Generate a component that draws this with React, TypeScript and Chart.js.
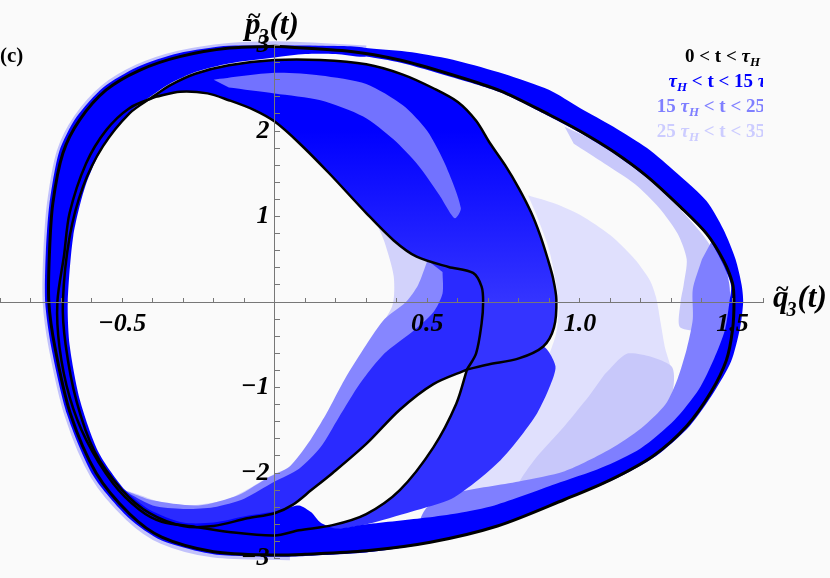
import React, { useEffect, useRef } from "react";
import { Chart, registerables } from "chart.js";

Chart.register(...registerables);

type Pt = [number, number];

// labelled ticks
const X_LABELED = [-0.5, 0.5, 1.0, 1.5];
const Y_LABELED = [-3, -2, -1, 1, 2, 3];

// legend lines: [text, style] with style n=normal, i=italic, s=subscript
const LEGEND: { color: string; parts: [string, string][] }[] = [
  { color: "#000000", parts: [["0 < t < ", "n"], ["τ", "i"], ["H", "s"]] },
  { color: "#0000ff", parts: [["τ", "i"], ["H", "s"], [" < t < 15 ", "n"], ["τ", "i"], ["H", "s"]] },
  { color: "#7f7fff", parts: [["15 ", "n"], ["τ", "i"], ["H", "s"], [" < t < 25 ", "n"], ["τ", "i"], ["H", "s"]] },
  { color: "#ccccff", parts: [["25 ", "n"], ["τ", "i"], ["H", "s"], [" < t < 35 ", "n"], ["τ", "i"], ["H", "s"]] },
];

// ---- 0 < t < τH (black) ----
const K1: Pt[] = [
  [0, 2.99], [0.25, 2.93], [0.41, 2.83], [0.57, 2.67], [0.74, 2.47], [0.9, 2.19], [1.0, 2.0],
  [1.11, 1.76], [1.22, 1.47], [1.33, 1.11], [1.415, 0.8], [1.47, 0.49], [1.5, 0.22], [1.505, 0],
  [1.5, -0.33], [1.48, -0.68], [1.43, -1.05], [1.35, -1.45], [1.24, -1.8], [1.1, -2.08],
  [0.95, -2.31], [0.73, -2.62], [0.51, -2.81], [0.3, -2.91], [0.1, -2.95], [0, -2.96],
  [-0.2, -2.92], [-0.37, -2.75], [-0.475, -2.48], [-0.585, -2.0], [-0.67, -1.3], [-0.72, -0.53],
  [-0.74, 0], [-0.738, 0.57], [-0.727, 1.15], [-0.694, 1.74], [-0.639, 2.13], [-0.552, 2.48],
  [-0.443, 2.71], [-0.311, 2.87], [-0.148, 2.97], [0, 2.99],
];
const K2_UPPER: Pt[] = [
  [-0.4, 2.4], [-0.34, 2.54], [-0.26, 2.67], [-0.15, 2.77], [0, 2.83], [0.15, 2.83], [0.3, 2.78],
  [0.42, 2.66], [0.52, 2.5], [0.6, 2.34], [0.66, 2.12], [0.705, 1.86], [0.755, 1.6], [0.8, 1.33],
  [0.84, 1.05], [0.87, 0.78], [0.895, 0.5], [0.912, 0.28], [0.923, 0.03], [0.915, -0.3],
  [0.88, -0.52], [0.8, -0.66], [0.7, -0.73], [0.63, -0.79],
];
const K2_LOWER: Pt[] = [
  [0.63, -0.79], [0.52, -0.96], [0.41, -1.26], [0.3, -1.66], [0.19, -2.0], [0.12, -2.2],
  [0.06, -2.37], [0, -2.47], [-0.09, -2.53], [-0.2, -2.62], [-0.3, -2.62], [-0.41, -2.47], [-0.5, -2.2],
];
const K2_LEFT: Pt[] = [
  [-0.59, -1.75], [-0.65, -1.15], [-0.685, -0.5], [-0.694, 0], [-0.672, 0.76], [-0.628, 1.35],
  [-0.563, 1.82], [-0.475, 2.21], [-0.4, 2.4],
];
const K3_ARC: Pt[] = [
  [-0.39, 2.4], [-0.31, 2.46], [-0.22, 2.44], [-0.15, 2.36], [-0.07, 2.25], [0, 2.11], [0.08, 1.86], [0.18, 1.5],
];
const K3_MID: Pt[] = [
  [0.3, 1.04], [0.39, 0.72], [0.465, 0.53], [0.57, 0.41], [0.65, 0.34], [0.678, 0.18], [0.683, 0],
  [0.678, -0.25], [0.66, -0.6], [0.63, -0.79],
];
const K3_ALPHA: Pt[] = [
  [0.63, -0.79], [0.595, -1.19], [0.52, -1.7], [0.41, -2.2], [0.3, -2.48], [0.19, -2.61], [0.08, -2.67],
];
const K3_BOTTOM: Pt[] = [
  [0, -2.73], [-0.15, -2.69], [-0.26, -2.63], [-0.37, -2.57], [-0.443, -2.43], [-0.53, -2.12],
];
const K3_LEFT: Pt[] = [
  [-0.618, -1.61], [-0.672, -1.11], [-0.705, -0.53], [-0.712, 0], [-0.69, 0.55], [-0.672, 1.04],
  [-0.618, 1.62], [-0.552, 2.01], [-0.475, 2.27], [-0.39, 2.4],
];

// ---- τH < t < 15 τH (blue) ----
const RING_OUTER: Pt[] = [
  [0.3, 2.97], [0.45, 2.92], [0.6, 2.82], [0.75, 2.67], [0.9, 2.48], [1.0, 2.27], [1.11, 2.05],
  [1.22, 1.8], [1.32, 1.5], [1.415, 1.18], [1.47, 0.85], [1.51, 0.5], [1.53, 0.2], [1.535, 0],
  [1.525, -0.3], [1.495, -0.7], [1.44, -1.05], [1.36, -1.45], [1.25, -1.8], [1.11, -2.08],
  [0.955, -2.31], [0.735, -2.62], [0.51, -2.82], [0.3, -2.93], [0.1, -2.97], [0, -2.98],
  [-0.2, -2.95], [-0.37, -2.79], [-0.48, -2.52], [-0.595, -2.03], [-0.68, -1.32], [-0.732, -0.53],
  [-0.752, 0], [-0.75, 0.57], [-0.738, 1.15], [-0.706, 1.76], [-0.65, 2.16], [-0.562, 2.51],
  [-0.45, 2.75], [-0.315, 2.91], [-0.15, 3.0], [0, 3.02], [0.15, 3.0], [0.3, 2.97],
];
const RING_INNER: Pt[] = [
  [0.3, 2.87], [0.2, 2.9], [0.1, 2.9], [0, 2.86], [-0.15, 2.79], [-0.26, 2.69], [-0.34, 2.56],
  [-0.4, 2.42], [-0.475, 2.22], [-0.56, 1.84], [-0.62, 1.36], [-0.66, 0.77], [-0.678, 0],
  [-0.672, -0.5], [-0.638, -1.15], [-0.578, -1.75], [-0.49, -2.2], [-0.41, -2.43], [-0.3, -2.58],
  [-0.2, -2.58], [-0.09, -2.5], [0, -2.45], [0.04, -2.41], [0.08, -2.38], [0.12, -2.46], [0.15, -2.58],
  [0.2, -2.65], [0.3, -2.6], [0.5, -2.52], [0.6, -2.47], [0.72, -2.38], [0.92, -2.13], [1.07, -1.94],
  [1.2, -1.71], [1.31, -1.38], [1.39, -1.02], [1.44, -0.66], [1.475, -0.33], [1.49, 0], [1.495, 0.2],
  [1.465, 0.47], [1.415, 0.78], [1.33, 1.09], [1.22, 1.45], [1.11, 1.74], [1.0, 1.98], [0.9, 2.17],
  [0.74, 2.45], [0.57, 2.64], [0.41, 2.8], [0.3, 2.87],
];
const BLUE_LOWER_EDGE: Pt[] = [
  [0.2, -2.66], [0.3, -2.6], [0.45, -2.45], [0.58, -2.3], [0.66, -2.1], [0.74, -1.85], [0.8, -1.6],
  [0.86, -1.3], [0.9, -1.0], [0.92, -0.75], [0.88, -0.52], [0.8, -0.66], [0.7, -0.73],
];
const LEFT_BLUE_EDGE: Pt[] = [
  [-0.4, -2.38], [-0.3, -2.42], [-0.2, -2.4], [-0.1, -2.3], [0, -2.1], [0.08, -1.95], [0.15, -1.7],
  [0.21, -1.35], [0.28, -0.95], [0.36, -0.6], [0.45, -0.35], [0.52, -0.12], [0.55, 0.1], [0.55, 0.35],
];

// ---- 15 τH < t < 25 τH (medium) ----
const TONGUE_STREAK: Pt[] = [
  [-0.2, 2.6], [0, 2.68], [0.15, 2.65], [0.3, 2.55], [0.42, 2.3], [0.5, 2.0], [0.56, 1.6],
  [0.61, 1.1], [0.59, 0.98], [0.54, 1.25], [0.47, 1.6], [0.39, 1.9], [0.29, 2.17], [0.15, 2.36],
  [0, 2.44], [-0.15, 2.51],
];
const MEDIUM_BAND: Pt[] = [
  [1.43, 0.7], [1.46, 0.6], [1.49, 0.2], [1.49, -0.2], [1.47, -0.5], [1.43, -0.85], [1.37, -1.2],
  [1.28, -1.55], [1.15, -1.85], [1.0, -2.08], [0.8, -2.35], [0.6, -2.5], [0.48, -2.55],
  [0.5, -2.4], [0.6, -2.23], [0.8, -2.1], [0.95, -1.98], [1.1, -1.72],
  [1.2, -1.48], [1.28, -1.2], [1.32, -0.9], [1.35, -0.55], [1.37, -0.2], [1.37, 0.15], [1.4, 0.5],
];
const LEFT_MED_EDGE: Pt[] = [
  [-0.4, -2.32], [-0.25, -2.38], [-0.12, -2.26], [-0.02, -2.05], [0.05, -1.92], [0.11, -1.65],
  [0.17, -1.3], [0.23, -0.9], [0.3, -0.5], [0.36, -0.2], [0.43, 0], [0.47, 0.2], [0.5, 0.48],
];

// ---- 25 τH < t < 35 τH (light) ----
const LIGHT_FRINGE: Pt[] = [
  [0.05, -2.99], [-0.2, -2.96], [-0.37, -2.8], [-0.48, -2.53],
  [-0.595, -2.04], [-0.68, -1.33], [-0.732, -0.54], [-0.752, 0], [-0.75, 0.57], [-0.738, 1.15],
  [-0.706, 1.76], [-0.65, 2.16], [-0.562, 2.51], [-0.45, 2.75], [-0.315, 2.91], [-0.15, 3.0],
  [0, 3.02], [0.15, 3.0], [0.3, 2.97],
];
const LIGHT_FAN: Pt[] = [
  [0.83, 1.25], [0.92, 1.15], [1.0, 1.02], [1.1, 0.78], [1.18, 0.5], [1.23, 0.25], [1.25, 0.05],
  [1.265, -0.25], [1.28, -0.55], [1.3, -0.8], [1.3, -1.1], [1.22, -1.45], [1.1, -1.75], [0.95, -2.0],
  [0.8, -2.15], [0.6, -2.3], [0.7, -1.8], [0.85, -1.0], [0.92, -0.4], [0.93, 0], [0.9, 0.6], [0.86, 1.0],
];
const LIGHT_SOLID: Pt[] = [
  [1.08, -0.85], [1.16, -0.6], [1.3, -0.75], [1.3, -1.1], [1.22, -1.45], [1.1, -1.75], [0.95, -2.0],
  [0.8, -2.15], [0.85, -1.85], [0.95, -1.45], [1.03, -1.1],
];
const INNER_LIGHT: Pt[] = [
  [0.95, 2.05], [1.05, 1.88], [1.15, 1.64], [1.25, 1.36], [1.34, 1.04], [1.41, 0.75], [1.46, 0.45],
  [1.48, 0.1], [1.47, -0.3], [1.33, -0.3], [1.33, 0], [1.34, 0.2], [1.35, 0.5], [1.32, 0.8],
  [1.26, 1.1], [1.18, 1.38], [1.08, 1.62], [0.98, 1.85],
];
const LEFT_LIGHT_EDGE: Pt[] = [
  [-0.44, -2.26], [-0.367, -2.35], [-0.28, -2.38], [-0.148, -2.3], [0, -2.01], [0.082, -1.89],
  [0.137, -1.62], [0.213, -1.11], [0.3, -0.53], [0.385, -0.05], [0.39, 0.3], [0.36, 0.7], [0.33, 0.95],
];

const SERIF = '"Liberation Serif", "Times New Roman", serif';

function partFont(s: string, size: number) {
  if (s === "n") return `bold ${size}px ${SERIF}`;
  if (s === "i") return `italic bold ${size}px ${SERIF}`;
  return `italic bold ${Math.round(size * 0.7)}px ${SERIF}`;
}

function richWidth(ctx: CanvasRenderingContext2D, parts: [string, string][], size: number) {
  let total = 0;
  parts.forEach(([t, s]) => {
    ctx.font = partFont(s, size);
    total += ctx.measureText(t).width;
  });
  return total;
}

function drawRich(ctx: CanvasRenderingContext2D, parts: [string, string][], cx: number, base: number, size: number) {
  let x = cx - richWidth(ctx, parts, size) / 2;
  parts.forEach(([t, s]) => {
    ctx.font = partFont(s, size);
    ctx.fillText(t, x, s === "s" ? base + 4 : base);
    x += ctx.measureText(t).width;
  });
}

function drawTitle(ctx: CanvasRenderingContext2D, letter: string, x: number, base: number) {
  ctx.font = `italic bold 31px ${SERIF}`;
  ctx.fillText(letter, x, base);
  const w = ctx.measureText(letter).width;
  ctx.font = `bold 24px ${SERIF}`;
  ctx.fillText("~", x + 3, base - 11);
  ctx.font = `italic bold 20px ${SERIF}`;
  ctx.fillText("3", x + w - 2, base + 9);
  const w2 = ctx.measureText("3").width;
  ctx.font = `italic bold 31px ${SERIF}`;
  ctx.fillText("(t)", x + w - 1 + w2, base);
}

const textPlugin = {
  id: "texts",
  afterDraw(chart: any) {
    const ctx: CanvasRenderingContext2D = chart.ctx;
    const area = chart.chartArea;
    ctx.save();
    ctx.textAlign = "left";
    ctx.textBaseline = "alphabetic";
    ctx.fillStyle = "#000";
    ctx.font = `bold 21px ${SERIF}`;
    ctx.fillText("(c)", 0, 62);
    drawTitle(ctx, "p", 245, 34);
    drawTitle(ctx, "q", 773, 307);
    ctx.beginPath();
    ctx.rect(0, 0, area.right, chart.height);
    ctx.clip();
    const size = 19;
    const w1 = richWidth(ctx, LEGEND[0].parts, size);
    const cx = area.right - 3 - w1 / 2;
    LEGEND.forEach((line, i) => {
      ctx.fillStyle = line.color;
      drawRich(ctx, line.parts, cx, 62 + i * 25, size);
    });
    ctx.restore();
  },
};

export default function App() {
  const ref = useRef<HTMLCanvasElement>(null);
  useEffect(() => {
    const canvas = ref.current;
    if (!canvas) return;
    const c2d = canvas.getContext("2d") as CanvasRenderingContext2D;
    // the tongue is densely filled at the top and striped (lighter) lower down
    const tongueFill = c2d.createLinearGradient(0, 130, 0, 300);
    tongueFill.addColorStop(0, "#0000ff");
    tongueFill.addColorStop(1, "#3434ff");
    const rev = (a: Pt[]) => a.slice().reverse();
    const layers: { pts: Pt[]; fill?: any; stroke?: string; width?: number }[] = [
      { pts: LIGHT_FRINGE, stroke: "#c2c2fb", width: 5 },
      { pts: LIGHT_FAN, fill: "#e0e0fd" },
      { pts: LIGHT_SOLID, fill: "#c8c8fa" },
      { pts: INNER_LIGHT, fill: "#c8c8fa" },
      { pts: MEDIUM_BAND, fill: "#7f7fff" },
      { pts: [...K3_MID, ...K2_LOWER, ...LEFT_LIGHT_EDGE], fill: "#d2d2fb" },
      { pts: [...K3_MID, ...K2_LOWER, ...LEFT_MED_EDGE], fill: "#8686ff" },
      { pts: [...K3_MID, ...K2_LOWER, ...LEFT_BLUE_EDGE], fill: "#2a2aff" },
      { pts: [...K3_ALPHA, ...BLUE_LOWER_EDGE], fill: "#3030ff" },
      { pts: [...RING_OUTER, ...RING_INNER], fill: "#0000ff" },
      { pts: [...K2_UPPER, ...rev(K3_MID), ...rev(K3_ARC)], fill: tongueFill },
      { pts: TONGUE_STREAK, fill: "#7272ff" },
      { pts: [...K3_ARC, ...K3_MID, ...K3_ALPHA, ...K3_BOTTOM, ...K3_LEFT], stroke: "#000", width: 2.5 },
      { pts: [...K2_UPPER, ...K2_LOWER, ...K2_LEFT], stroke: "#000", width: 2.5 },
      { pts: K1, stroke: "#000", width: 3 },
    ];
    const datasets = layers.map((l, i) => ({
      data: l.pts.map(([x, y]) => ({ x, y })),
      showLine: true,
      pointRadius: 0,
      pointHoverRadius: 0,
      borderColor: l.stroke ?? "rgba(0,0,0,0)",
      borderWidth: l.stroke ? l.width : 0,
      backgroundColor: l.fill ?? "rgba(0,0,0,0)",
      fill: l.fill ? "shape" : false,
      tension: l.fill ? 0.25 : 0.3,
      clip: false as any,
      order: layers.length - i,
    }));
    const tickFont = (lh: string) => ({ family: SERIF, size: 26, style: "italic" as const, weight: "bold" as const, lineHeight: lh });
    const fmt = (n: number) => (n < 0 ? "\u2212" : "") + Math.abs(n);
    const chart = new Chart(canvas, {
      type: "scatter",
      data: { datasets: datasets as any },
      options: {
        responsive: false,
        animation: false,
        events: [],
        layout: { padding: { left: 0, right: 67, top: 45.5, bottom: 19.5 } },
        plugins: { legend: { display: false }, tooltip: { enabled: false } },
        scales: {
          x: {
            type: "linear",
            min: -0.9,
            max: 1.6,
            position: { y: 0 } as any,
            grid: { drawOnChartArea: false, tickLength: -5, color: "#777", lineWidth: 1, z: 1 },
            border: { color: "#777", width: 1, z: 1 },
            ticks: {
              z: 2,
              stepSize: 0.1,
              autoSkip: false,
              maxRotation: 0,
              padding: 0,
              color: "#000",
              font: tickFont("54px") as any,
              callback: (v: any) => {
                const n = Math.round(Number(v) * 10) / 10;
                return X_LABELED.some((t) => Math.abs(t - n) < 1e-6) ? (n < 0 ? "\u2212" : "") + Math.abs(n).toFixed(1) : "";
              },
            },
          } as any,
          y: {
            type: "linear",
            min: -3,
            max: 3,
            position: { x: 0 } as any,
            grid: { drawOnChartArea: false, tickLength: -6, color: "#777", lineWidth: 1, z: 1 },
            border: { color: "#777", width: 1, z: 1 },
            ticks: {
              z: 2,
              stepSize: 0.2,
              autoSkip: false,
              padding: 3,
              color: "#000",
              font: tickFont("31px") as any,
              callback: (v: any) => {
                const n = Math.round(Number(v) * 10) / 10;
                return Y_LABELED.some((t) => Math.abs(t - n) < 1e-6) ? fmt(n) + "\u2009" : "";
              },
            },
          } as any,
        },
      },
      plugins: [textPlugin],
    });
    return () => chart.destroy();
  }, []);
  return (
    <div style={{ position: "fixed", left: 0, top: 0, width: 830, height: 578, background: "#fafafa" }}>
      <canvas ref={ref} width={830} height={578} style={{ display: "block" }} />
    </div>
  );
}
